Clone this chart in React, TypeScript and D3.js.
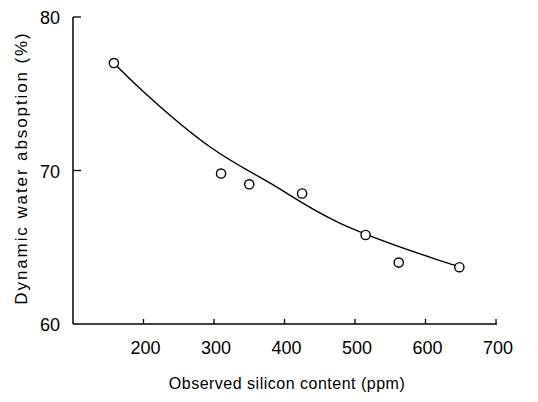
import React, { useEffect, useRef } from 'react';
import * as d3 from 'd3';

// observed points
const siliconPpm = [158, 310, 350, 425, 515, 562, 648];
const waterAbsorption = [77.0, 69.8, 69.1, 68.5, 65.8, 64.0, 63.7];

// fitted curve
const fitPpm = [158, 200, 294, 384, 479, 611, 648];
const fitAbsorption = [77.0, 75.13, 71.55, 69.06, 66.56, 64.28, 63.75];

const xTicks = [200, 300, 400, 500, 600, 700];
const yTicks = [60, 70, 80];

const App: React.FC = () => {
  const svgRef = useRef<SVGSVGElement>(null);

  useEffect(() => {
    if (!svgRef.current) return;
    const svg = d3.select(svgRef.current);
    svg.selectAll('*').remove();

    const x = d3.scaleLinear().domain([100, 700]).range([73, 496]);
    const y = d3.scaleLinear().domain([60, 80]).range([324, 17]);
    const font = "'Liberation Sans', Arial, sans-serif";

    // y axis
    svg.append('line')
      .attr('x1', x(100)).attr('x2', x(100))
      .attr('y1', y(80)).attr('y2', y(60))
      .attr('stroke', '#000').attr('stroke-width', 1.5);

    svg.selectAll('.ytick')
      .data(yTicks.filter(d => d !== 60))
      .enter()
      .append('line')
      .attr('x1', x(100)).attr('x2', x(100) + 8)
      .attr('y1', d => y(d)).attr('y2', d => y(d))
      .attr('stroke', '#000').attr('stroke-width', 1.3);

    svg.selectAll('.ylab')
      .data(yTicks)
      .enter()
      .append('text')
      .attr('x', 60)
      .attr('y', d => y(d) + 7)
      .attr('text-anchor', 'end')
      .attr('font-family', font)
      .attr('font-size', 18)
      .text(d => d);

    // x axis
    svg.append('line')
      .attr('x1', x(100)).attr('x2', x(700) + 1)
      .attr('y1', y(60)).attr('y2', y(60))
      .attr('stroke', '#000').attr('stroke-width', 1.5);

    svg.selectAll('.xtick')
      .data(xTicks)
      .enter()
      .append('line')
      .attr('x1', d => x(d)).attr('x2', d => x(d))
      .attr('y1', y(60)).attr('y2', y(60) - 5)
      .attr('stroke', '#000').attr('stroke-width', 1.3);

    svg.selectAll('.xlab')
      .data(xTicks)
      .enter()
      .append('text')
      .attr('x', d => x(d) + 2)
      .attr('y', 354)
      .attr('text-anchor', 'middle')
      .attr('font-family', font)
      .attr('font-size', 18)
      .text(d => d);

    // titles
    svg.append('text')
      .attr('x', 287)
      .attr('y', 389)
      .attr('text-anchor', 'middle')
      .attr('font-family', font)
      .attr('font-size', 16)
      .attr('letter-spacing', 0.5)
      .text('Observed silicon content (ppm)');

    svg.append('text')
      .attr('transform', 'translate(27,168) rotate(-90)')
      .attr('text-anchor', 'middle')
      .attr('font-family', font)
      .attr('font-size', 17)
      .attr('letter-spacing', 1.9)
      .text('Dynamic water absoption (%)');

    // fitted curve
    const fit = fitPpm.map((p, i) => ({ p, a: fitAbsorption[i] }));
    const line = d3.line<{ p: number; a: number }>()
      .x(d => x(d.p))
      .y(d => y(d.a))
      .curve(d3.curveNatural);

    svg.append('path')
      .datum(fit)
      .attr('fill', 'none')
      .attr('stroke', '#000')
      .attr('stroke-width', 1.4)
      .attr('d', line);

    // points
    const pts = siliconPpm.map((p, i) => ({ p, a: waterAbsorption[i] }));
    svg.selectAll('.dot')
      .data(pts)
      .enter()
      .append('circle')
      .attr('cx', d => x(d.p))
      .attr('cy', d => y(d.a))
      .attr('r', 4.6)
      .attr('fill', '#fff')
      .attr('stroke', '#000')
      .attr('stroke-width', 1.4);
  }, []);

  return (
    <svg
      ref={svgRef}
      width={538}
      height={402}
      style={{ position: 'absolute', left: 0, top: 0, background: '#fff' }}
    />
  );
};

export default App;
